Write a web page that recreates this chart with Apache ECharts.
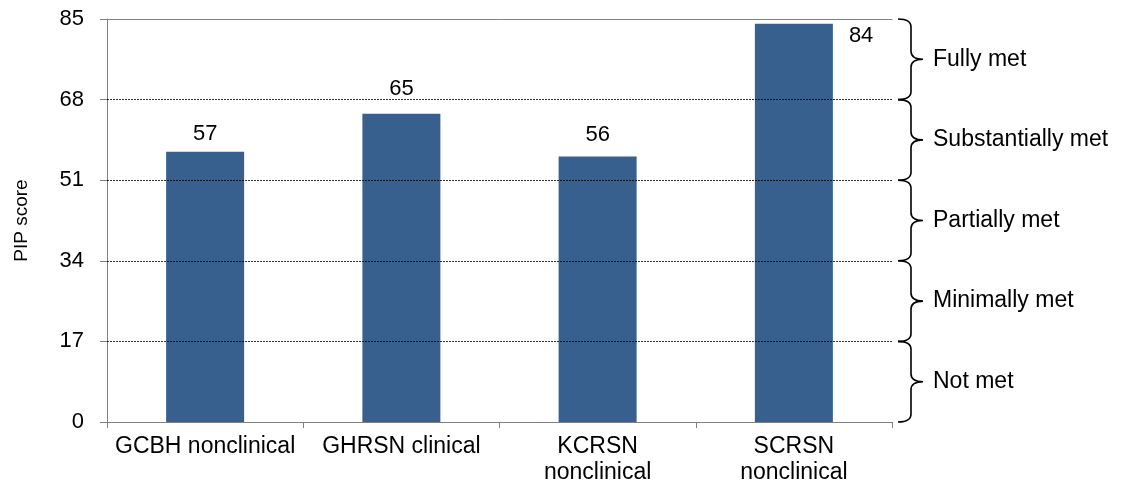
<!DOCTYPE html>
<html><head><meta charset="utf-8">
<script src="https://cdn.jsdelivr.net/npm/echarts@6/dist/echarts.min.js"></script>
<style>html,body{margin:0;padding:0;background:#fff}#c{width:1123px;height:490px}</style>
</head><body><div id="c"></div>
<script>
const categories = ['GCBH nonclinical', 'GHRSN clinical', 'KCRSN\nnonclinical', 'SCRSN\nnonclinical'];
const scores = [57, 65, 56, 84];
const bandLows = [0, 17, 34, 51, 68];
const bandHighs = [17, 34, 51, 68, 85];
const bandLabels = ['Not met', 'Minimally met', 'Partially met', 'Substantially met', 'Fully met'];
const gridValues = [17, 34, 51, 68];

const FONT = '"Liberation Sans", Arial, sans-serif';
const chart = echarts.init(document.getElementById('c'), null, {renderer: 'canvas'});

// per-bar label placement (styling only)
const labelStyles = [
  {distance: 7},
  {distance: 14},
  {distance: 11},
  {position: [94, 1], align: 'left', verticalAlign: 'top'}
];
const barData = scores.map((v, i) => ({value: v, label: labelStyles[i]}));

const bandData = bandLows.map((lo, i) => ({value: [0, lo, bandHighs[i]], name: bandLabels[i]}));

chart.setOption({
  animation: false,
  textStyle: {fontFamily: FONT},
  grid: {left: 107, right: 231, top: 19, bottom: 68, containLabel: false},
  xAxis: [{
    type: 'category', data: categories,
    axisLine: {lineStyle: {color: '#808080', width: 1}},
    axisTick: {show: true, length: 6, lineStyle: {color: '#808080'}},
    axisLabel: {color: '#000', fontSize: 23, fontFamily: FONT, margin: 12, lineHeight: 26, interval: 0}
  }, {
    type: 'category', data: categories, position: 'top',
    axisLine: {show: true, lineStyle: {color: '#808080', width: 1}},
    axisTick: {show: false}, axisLabel: {show: false}
  }],
  yAxis: {
    type: 'value', min: 0, max: 85, interval: 17,
    name: 'PIP score', nameLocation: 'middle', nameGap: 76, nameRotate: 90,
    nameTextStyle: {color: '#000', fontSize: 19, fontFamily: FONT, padding: [0, 0, 0, 0]},
    axisLine: {show: true, lineStyle: {color: '#808080', width: 1}},
    axisTick: {show: true, length: 7, lineStyle: {color: '#808080'}},
    axisLabel: {color: '#000', fontSize: 22, fontFamily: FONT, margin: 23},
    splitLine: {show: false}
  },
  series: [{
    type: 'bar', data: barData, barWidth: 78,
    itemStyle: {color: '#37608f'},
    label: {show: true, position: 'top', distance: 7, color: '#000', fontSize: 22, fontFamily: FONT},
    markLine: {
      silent: true, symbol: 'none', label: {show: false},
      lineStyle: {color: '#000', type: [2, 1], width: 0.8},
      data: gridValues.map(v => ({yAxis: v}))
    },
    z: 2
  }, {
    type: 'custom', data: bandData, clip: false, silent: true,
    encode: {x: 0, y: [1, 2]},
    renderItem: function (params, api) {
      const cs = params.coordSys;
      const right = cs.x + cs.width;
      const y1 = api.coord([0, api.value(2)])[1];
      const y2 = api.coord([0, api.value(1)])[1];
      const ym = (y1 + y2) / 2;
      const x0 = right + 6, x1 = right + 19, x2 = right + 31, r = 8;
      const path = `M${x0},${y1} Q${x1},${y1} ${x1},${y1 + r} L${x1},${ym - r} Q${x1},${ym} ${x2},${ym} Q${x1},${ym} ${x1},${ym + r} L${x1},${y2 - r} Q${x1},${y2} ${x0},${y2}`;
      return {
        type: 'group',
        children: [{
          type: 'path', shape: {pathData: path},
          style: {stroke: '#000', fill: null, lineWidth: 1.6}
        }, {
          type: 'text',
          style: {x: right + 41, y: ym, text: bandLabels[params.dataIndex], fill: '#000',
            font: '23px ' + FONT, align: 'left', verticalAlign: 'middle'}
        }]
      };
    }
  }]
});
</script></body></html>
